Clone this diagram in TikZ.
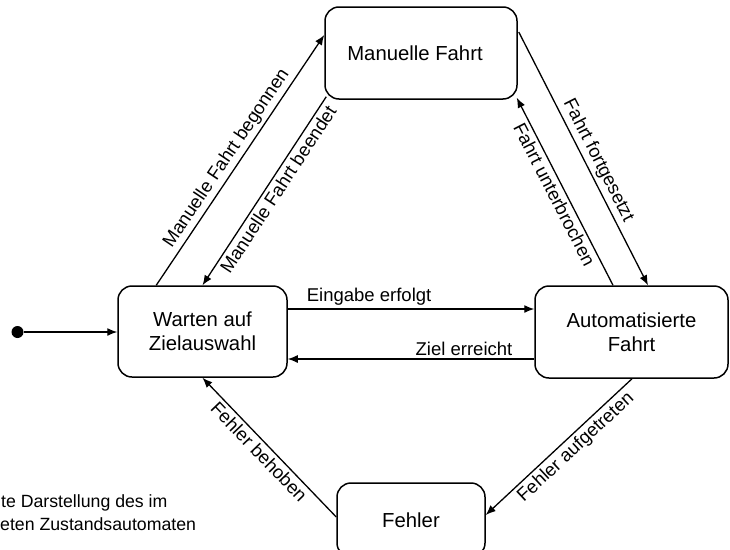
\documentclass[tikz,border=0pt]{standalone}
\usepackage{fontspec}
\setmainfont{Liberation Sans}
\usetikzlibrary{arrows.meta,calc}
\begin{document}
\begin{tikzpicture}[x=1pt,y=-1pt,
  state/.style={draw, line width=1.5pt, rounded corners=14pt, align=center,
    font=\fontsize{20.3}{24}\selectfont, inner sep=0pt},
  trans/.style={line width=1.3pt, -{Latex[length=10pt,width=8pt]}},
  lbl/.style={font=\fontsize{18.5}{22}\selectfont, inner sep=3pt, sloped},
  captxt/.style={font=\fontsize{17.7}{23}\selectfont, inner sep=0pt, anchor=base west}
]
\useasboundingbox (0,0) rectangle (730,549);

\node[state, minimum width=192pt, minimum height=92pt] (m) at (421,53) {\hspace*{-6pt}Manuelle Fahrt\hspace*{6pt}};
\node[state, minimum width=169pt, minimum height=91pt] (w) at (202.5,331.5) {Warten auf\\Zielauswahl};
\node[state, minimum width=193pt, minimum height=92pt] (a) at (631.5,332) {Automatisierte\\Fahrt};
\node[state, minimum width=148pt, minimum height=74pt] (f) at (411,520) {Fehler};

\node[circle, fill, inner sep=0pt, minimum size=12pt] (i) at (17.5,332) {};
\draw[trans] (i) -- (i -| w.west);

% Warten <-> Manuelle Fahrt
\draw[trans] ($(w.north west)+(39,0)$) -- node[lbl, above, pos=0.48] {Manuelle Fahrt begonnen} ($(m.west)+(0,-18)$);
\draw[trans] ($(m.south west)+(2,-3)$) -- node[lbl, below, pos=0.46] {Manuelle Fahrt beendet} (w.north);

% Manuelle Fahrt <-> Automatisierte Fahrt
\draw[trans] ($(m.east)+(1,-21)$) -- node[lbl, above, pos=0.53] {Fahrt fortgesetzt} ($(a.north)+(16.5,0)$);
\draw[trans] ($(a.north)+(-18.5,0)$) -- node[lbl, below, pos=0.51] {Fahrt unterbrochen} ($(m.south east)+(-1,-2)$);

% Warten <-> Automatisierte Fahrt
\coordinate (e1) at ($(w.east)+(0,-22.5)$);
\draw[trans] (e1) -- node[lbl, above, pos=0.33] {Eingabe erfolgt} (e1 -| a.west);
\coordinate (e2) at ($(w.east)+(0,27.5)$);
\draw[trans] (e2 -| a.west) -- node[lbl, above, pos=0.285] {Ziel erreicht} (e2);

% Fehler
\draw[trans] ($(a.south)+(0.5,0)$) -- node[lbl, below, pos=0.44] {Fehler aufgetreten} ($(f.east)+(0,-5)$);
\draw[trans] ($(f.west)+(0,-3)$) -- node[lbl, below, pos=0.52] {Fehler behoben} (w.south);

% cropped caption
\node[captxt] (c1) at (1,507) {te Darstellung des im};
\node[captxt] (c2) at (0,530) {eten Zustandsautomaten};
\end{tikzpicture}
\end{document}
